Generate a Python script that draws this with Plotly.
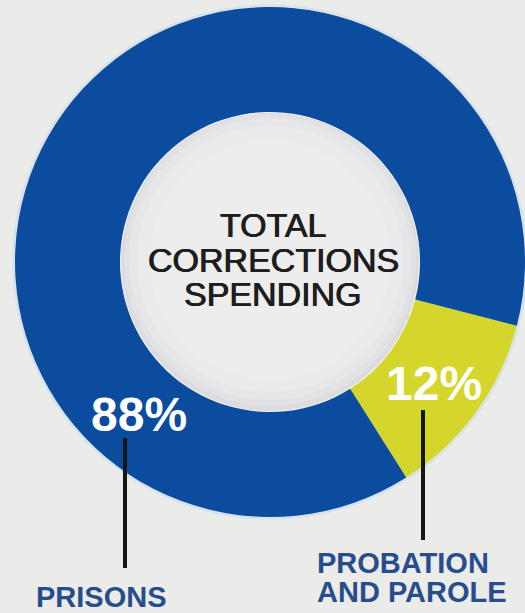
import plotly.graph_objects as go

# Share of total corrections spending, in percent
categories = ["PROBATION AND PAROLE", "PRISONS"]
shares = [12, 88]
category_titles = [["PROBATION", "AND PAROLE"], ["PRISONS"]]
center_title = ["TOTAL", "CORRECTIONS", "SPENDING"]

# Page geometry (pixels)
W, H = 525, 613
CX, CY, R = 270, 262, 255          # donut centre and outer radius
R_HOLE = 150                        # inner radius

BLUE = "#0b4c9e"
YELLOW = "#d5d62b"
BG = "#ebebea"
LABEL_BLUE = "#264d8c"
FONT = "Liberation Sans, Arial, sans-serif"


def fx(x):
    return x / W


def fy(y):
    return 1 - y / H


def circle(cx, cy, r, fill=None, line=None, width=0):
    return dict(
        type="circle", xref="paper", yref="paper", layer="below",
        x0=fx(cx - r), x1=fx(cx + r), y0=fy(cy + r), y1=fy(cy - r),
        fillcolor=fill if fill else "rgba(0,0,0,0)",
        line=dict(color=line if line else "rgba(0,0,0,0)", width=width),
    )


fig = go.Figure(
    go.Pie(
        labels=categories,
        values=shares,
        hole=R_HOLE / R,
        sort=False,
        direction="clockwise",
        rotation=104.5,
        marker=dict(colors=[YELLOW, BLUE], line=dict(width=0)),
        textinfo="none",
        hoverinfo="label+percent",
        showlegend=False,
        domain=dict(x=[fx(CX - R), fx(CX + R)], y=[fy(CY + R), fy(CY - R)]),
    )
)

# Soft inset shading of the centre disc and a faint halo round the ring
shapes = [
    circle(CX, CY, R + 1.5, line="#d3e2f1", width=2),
    circle(CX, CY, R_HOLE + 1, fill="#f4f4f6"),
    circle(CX, CY, R_HOLE - 1, fill="#dcdce0"),
    circle(CX, CY - 2, R_HOLE - 4, fill="#e2e2e5"),
    circle(CX, CY - 3, R_HOLE - 9, fill="#e7e7e9"),
    circle(CX, CY - 3, R_HOLE - 17, fill="#ebebed"),
    circle(CX, CY - 2, R_HOLE - 30, fill="#ededee"),
]

# Leader lines from the percentages down to the category names
for x, y0, y1 in [(125, 438, 568), (423, 410, 540)]:
    shapes.append(dict(
        type="line", xref="paper", yref="paper",
        x0=fx(x), x1=fx(x), y0=fy(y0), y1=fy(y1),
        line=dict(color="#161616", width=4),
    ))

annotations = []

# Centre title, one line per annotation for tight leading
for text, y in zip(center_title, [225, 260, 294]):
    annotations.append(dict(
        text=text, x=fx(273), y=fy(y), xref="paper", yref="paper",
        xanchor="center", yanchor="middle", showarrow=False,
        font=dict(family=FONT, size=34, color="#1e1e1e",
                  shadow="0.45px 0 0 #1e1e1e, -0.45px 0 0 #1e1e1e"),
    ))

# Percent labels on the ring
for v, (x, y) in zip(shares, [(434, 383), (139, 414)]):
    annotations.append(dict(
        text=f"<b>{v}%</b>", x=fx(x), y=fy(y), xref="paper", yref="paper",
        xanchor="center", yanchor="middle", showarrow=False,
        font=dict(family=FONT, size=48, color="white"),
    ))

# Category names
for text, y in zip(category_titles[0], [563, 592]):
    annotations.append(dict(
        text=f"<b>{text}</b>", x=fx(315), y=fy(y), xref="paper", yref="paper",
        xanchor="left", yanchor="middle", showarrow=False,
        font=dict(family=FONT, size=29, color=LABEL_BLUE),
    ))
annotations.append(dict(
    text=f"<b>{category_titles[1][0]}</b>", x=fx(101), y=fy(597),
    xref="paper", yref="paper", xanchor="center", yanchor="middle",
    showarrow=False, font=dict(family=FONT, size=29, color=LABEL_BLUE),
))

fig.update_layout(
    width=W, height=H,
    margin=dict(l=0, r=0, t=0, b=0),
    paper_bgcolor=BG, plot_bgcolor=BG,
    shapes=shapes, annotations=annotations,
)

fig.write_html("out.html", config={"displayModeBar": False})
